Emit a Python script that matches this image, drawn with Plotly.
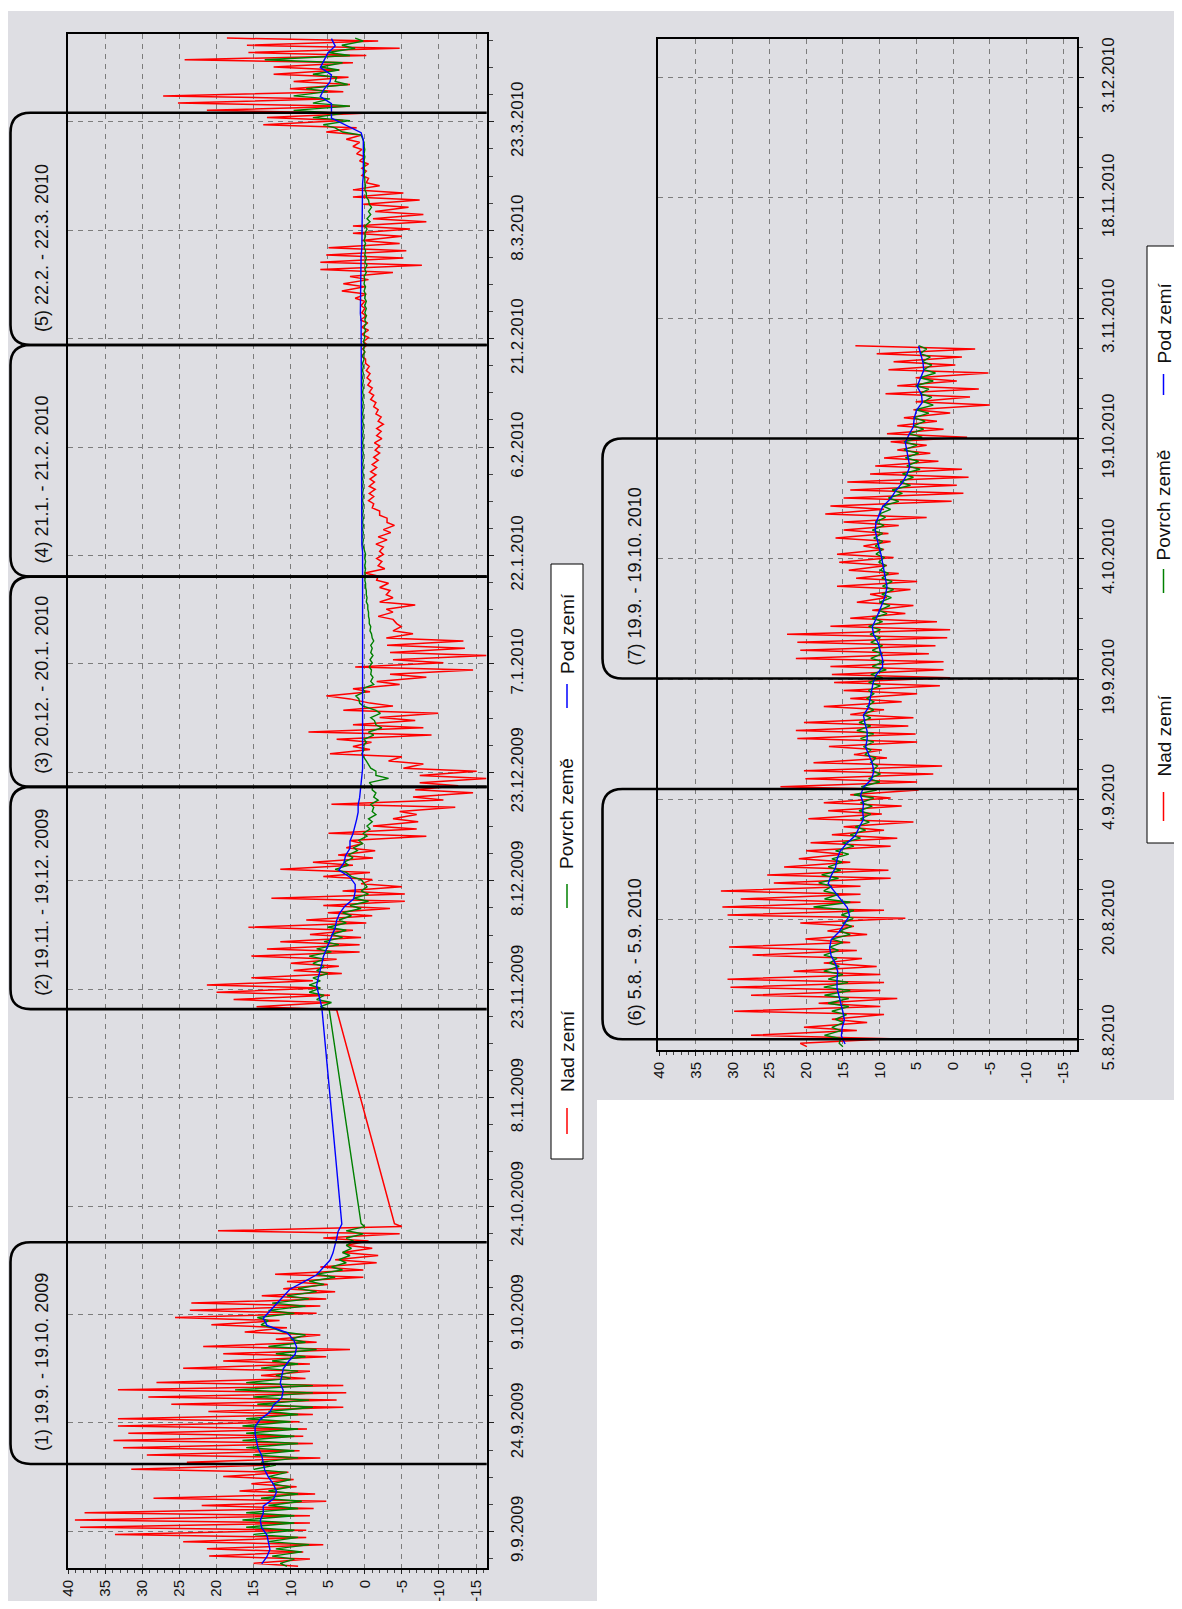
import plotly.graph_objects as go
from datetime import datetime, timedelta

# ---------------------------------------------------------------- data
SERIES_NAMES = ["Nad zemí", "Povrch země", "Pod zemí"]
SERIES_COLORS = ["#ff0000", "#008000", "#0000ff"]

# left chart, part 1 : one row per day, first day 4.9.2009
SEG1_START = "2009-09-04"
red1_max = [15.0, 21.0, 21.3, 24.5, 33.7, 38.4, 39.1, 37.8, 22.0, 28.5,
            16.9, 15.3, 19.1, 31.5, 24.0, 29.4, 32.6, 33.9, 31.9, 33.3,
            33.3, 21.1, 26.1, 29.2, 33.3, 28.1, 14.0, 24.5, 19.1, 19.1,
            21.8, 12.0, 16.2, 20.7, 25.6, 23.6, 23.4, 13.9, 11.0, 10.5,
            12.1, 6.0, 4.0, 3.0, 2.5, 5.6, 19.8, -4.0]
red1_min = [9.0, 7.4, 8.3, 5.6, 7.9, 7.9, 7.4, 7.4, 6.9, 5.2,
            6.7, 9.2, 9.6, 10.3, 12.8, 6.0, 8.8, 7.0, 8.3, 7.8,
            8.8, 7.0, 2.9, 3.8, 2.5, 2.9, 8.0, 7.4, 7.4, 5.2,
            2.0, 6.5, 6.0, 10.5, 11.5, 6.5, 6.0, 5.2, 4.0, 5.0,
            0.2, 0.2, -1.6, -1.8, -1.0, -0.5, -4.7, -5.0]
green1_max = [11.4, 12.5, 12.0, 13.0, 15.0, 16.0, 16.5, 16.0, 13.0, 14.0,
              13.0, 12.5, 13.0, 15.0, 14.0, 15.0, 16.0, 16.5, 16.0, 16.5,
              16.0, 13.0, 14.5, 15.0, 17.5, 16.0, 12.0, 14.0, 12.5, 12.0,
              13.0, 10.0, 11.0, 14.0, 14.5, 13.0, 12.5, 10.5, 9.0, 7.5,
              6.5, 4.5, 3.5, 3.0, 2.5, 2.5, 2.5, 0.5]
green1_min = [10.5, 9.5, 8.5, 7.5, 9.0, 9.5, 9.5, 9.5, 9.0, 8.5,
              9.0, 10.0, 10.0, 10.5, 12.0, 9.0, 9.5, 9.0, 9.5, 9.0,
              10.0, 9.0, 7.0, 7.5, 7.0, 7.0, 10.0, 9.0, 9.0, 8.0,
              6.5, 8.0, 8.0, 12.5, 13.0, 9.5, 8.0, 7.5, 6.5, 5.5,
              4.0, 3.0, 2.5, 2.0, 1.8, 1.5, 0.2, 0.0]
blue1 = [13.9, 13.2, 12.8, 13.0, 13.2, 13.9, 14.1, 13.7, 13.7, 12.3,
         11.9, 12.3, 13.0, 13.5, 13.7, 13.9, 14.4, 14.6, 14.8, 14.8,
         14.1, 12.8, 12.3, 11.2, 11.0, 11.4, 11.2, 11.0, 10.3, 9.4,
         9.2, 9.6, 10.5, 13.2, 13.7, 12.8, 11.9, 11.0, 10.1, 8.3,
         6.5, 5.6, 4.7, 4.3, 4.0, 3.8, 3.6, 3.1]

# left chart, part 2 : first day 20.11.2009
SEG2_START = "2009-11-20"
red2_max = [14.6, 17.7, 20.0, 21.3, 15.3, 9.6, 10.0, 15.3, 13.2, 11.4,
            7.4, 15.7, 7.9, 5.0, 5.6, 12.6, 3.0, 0.5, 5.6, 11.4,
            7.0, 3.6, 2.5, 2.0, 4.9, -1.1, -3.8, -4.7, 4.5, -6.5,
            -6.8, -7.4, -7.4, -5.2, -3.2, 4.7, 1.6, 3.8, 7.6, 1.6,
            -2.0, 2.9, -0.7, 5.2, 1.6, -1.6, -3.4, 1.3, -3.8, -3.4,
            -3.0, -2.9, -3.8, -4.3, -1.8, -2.9, -2.0, -2.9, -2.0, -1.6,
            0.0, -1.8, -1.6, -2.0, -1.5, -1.8, -2.5, -3.0, -2.0, -1.0,
            -0.5, -0.6, -0.6, -0.7, -0.8, -1.0, -1.2, -1.4, -1.3, -1.6,
            -1.6, -1.8, -1.5, -1.2, -0.8, -0.6, -0.4, -0.3, -0.2, -0.1,
            0.4, 0.3, 0.2, 0.4, 0.4, 0.6, 0.4, 0.5, 1.3, 3.1,
            2.9, 2.0, 6.0, 6.0, 5.2, 4.9, 0.4, 1.6, 1.6, -1.1,
            -1.4, 0.2, 1.6, 1.6, -0.2, 0.4, 0.4, 0.7, 1.1, 1.6,
            2.5, 5.2, 13.7, 13.2, 21.3, 25.2, 27.2, 10.1, 9.6, 12.3,
            12.3, 24.3, 15.7, 15.9, 18.6]
red2_min = [3.8, 4.7, 4.7, 6.0, 7.0, 3.1, 3.5, 3.8, 0.7, 0.7,
            0.5, 1.6, -0.2, -1.0, -3.4, -5.4, -5.4, -5.0, -1.0, -0.7,
            1.6, -1.1, -1.4, 0.3, -8.3, -7.0, -7.2, -7.0, -12.2, -10.6,
            -14.6, -12.6, -16.4, -15.1, -7.9, -5.0, -0.7, -0.9, -9.0, -7.9,
            -6.8, -9.9, -3.8, 2.0, -0.7, -4.7, -8.3, -14.6, -10.6, -16.4,
            -13.5, -13.3, -6.5, -4.9, -3.8, -3.8, -6.8, -3.8, -3.4, -3.2,
            -1.8, -2.7, -2.3, -2.5, -2.5, -3.0, -3.5, -4.0, -3.0, -2.0,
            -1.2, -1.2, -1.4, -1.3, -1.5, -1.6, -1.8, -2.0, -2.0, -2.3,
            -2.2, -2.5, -2.2, -1.8, -1.5, -1.2, -1.0, -0.8, -0.7, -0.6,
            -0.1, 0.0, -0.3, -0.5, -0.5, -0.4, -0.2, 0.0, 0.0, -0.2,
            0.0, -0.5, -3.8, -7.7, -5.2, -5.6, -4.7, -5.0, -6.1, -8.3,
            -7.9, -5.9, -7.4, -5.2, -2.0, -0.5, -0.2, -0.5, 0.0, 0.4,
            0.7, 0.4, 1.1, 2.9, 0.2, 2.0, 5.2, 2.9, 2.0, 2.2,
            3.4, 1.6, -0.2, -4.7, -1.8]
green2_max = [6.0, 6.5, 7.5, 7.5, 7.0, 6.5, 7.0, 7.5, 6.5, 5.5,
              4.5, 5.0, 3.5, 3.0, 2.0, 1.5, 0.5, 0.0, 1.8, 4.0,
              2.8, 2.2, 1.5, 0.8, 0.2, -0.3, -0.5, -1.0, -0.8, -1.2,
              -1.0, -0.6, -1.5, -0.8, -0.2, 0.4, 0.3, 0.1, -0.5, -1.5,
              -0.8, -1.5, 0.7, 1.2, 0.3, -0.8, -0.8, -0.6, -0.7, -0.8,
              -0.8, -1.0, -0.7, -0.6, -0.5, -0.4, -0.2, -0.2, -0.1, 0.0,
              0.0, 0.0, 0.0, 0.0, 0.3, 0.3, 0.3, 0.3, 0.3, 0.3,
              0.3, 0.3, 0.3, 0.3, 0.3, 0.3, 0.3, 0.3, 0.3, 0.3,
              0.3, 0.3, 0.3, 0.3, 0.3, 0.3, 0.3, 0.3, 0.3, 0.3,
              0.3, 0.2, 0.2, 0.1, 0.1, 0.0, 0.0, 0.0, 0.0, 0.1,
              0.1, 0.1, 0.0, 0.0, 0.0, 0.1, 0.1, 0.0, 0.0, -0.3,
              -0.5, -0.6, -0.2, 0.0, 0.0, 0.1, 0.1, 0.1, 0.1, 0.1,
              0.3, 3.0, 5.6, 7.0, 9.6, 7.0, 9.6, 7.9, 4.0, 7.0,
              6.0, 13.5, 5.0, 3.1, 1.3]
green2_min = [4.8, 4.5, 5.5, 6.0, 6.0, 5.0, 5.5, 5.5, 4.5, 3.5,
              3.0, 2.5, 2.5, 1.8, 0.5, -0.5, -0.5, -0.3, 0.5, 2.5,
              2.2, 1.6, 1.0, 0.3, -0.3, -0.7, -1.0, -1.5, -1.2, -1.8,
              -1.5, -1.0, -3.2, -1.5, -0.5, 0.2, 0.1, -0.2, -1.2, -2.3,
              -1.3, -2.1, 0.2, 0.8, 0.0, -1.2, -1.1, -0.9, -1.0, -1.1,
              -1.0, -1.2, -0.9, -0.8, -0.6, -0.5, -0.4, -0.3, -0.2, -0.1,
              -0.1, -0.1, -0.1, -0.1, 0.2, 0.2, 0.2, 0.2, 0.2, 0.2,
              0.2, 0.2, 0.2, 0.2, 0.2, 0.2, 0.2, 0.2, 0.2, 0.2,
              0.2, 0.2, 0.2, 0.2, 0.2, 0.2, 0.2, 0.2, 0.2, 0.2,
              0.1, 0.0, 0.0, 0.0, -0.1, -0.2, -0.2, -0.2, -0.2, -0.1,
              -0.1, 0.0, -0.2, -0.3, -0.2, -0.1, -0.1, -0.1, -0.3, -0.7,
              -0.8, -0.9, -0.5, -0.2, -0.1, 0.0, 0.0, 0.0, 0.0, 0.0,
              0.1, 0.5, 4.0, 2.0, 2.9, 2.0, 4.7, 5.0, 2.3, 3.8,
              3.5, 3.0, 2.0, 1.3, 0.2]
blue2 = [5.8, 6.0, 6.3, 6.5, 6.3, 6.0, 5.8, 5.6, 5.2, 4.7,
         4.4, 4.0, 3.8, 3.4, 2.7, 1.5, 1.3, 1.3, 2.0, 3.5,
         2.8, 2.6, 2.0, 2.0, 1.6, 1.3, 1.1, 0.9, 0.9, 0.7,
         0.6, 0.5, 0.3, 0.3, 0.3, 0.3, 0.3, 0.3, 0.3, 0.3,
         0.3, 0.3, 0.2, 0.2, 0.2, 0.2, 0.2, 0.2, 0.3, 0.3,
         0.3, 0.3, 0.3, 0.3, 0.3, 0.3, 0.3, 0.3, 0.3, 0.3,
         0.3, 0.3, 0.3, 0.3, 0.4, 0.4, 0.4, 0.4, 0.4, 0.4,
         0.4, 0.4, 0.4, 0.4, 0.4, 0.4, 0.4, 0.4, 0.4, 0.4,
         0.4, 0.4, 0.4, 0.4, 0.4, 0.4, 0.4, 0.4, 0.4, 0.4,
         0.5, 0.5, 0.5, 0.5, 0.5, 0.5, 0.6, 0.6, 0.6, 0.6,
         0.6, 0.6, 0.5, 0.5, 0.5, 0.4, 0.4, 0.4, 0.4, 0.3,
         0.3, 0.3, 0.3, 0.3, 0.3, 0.2, 0.2, 0.2, 0.2, 0.2,
         0.2, 0.5, 2.5, 4.5, 4.5, 4.5, 6.0, 5.5, 4.7, 4.5,
         6.0, 5.5, 5.0, 4.0, 4.5]

# right chart : first day 4.8.2010
SEG3_START = "2010-08-04"
red3_max = [20.8, 27.5, 20.3, 16.5, 29.8, 18.3, 27.5, 30.3, 30.7, 21.7,
            17.6, 27.3, 30.5, 20.1, 17.1, 20.8, 30.7, 31.4, 28.9, 31.6,
            24.4, 25.3, 23.0, 21.0, 20.0, 19.4, 16.5, 14.9, 19.7, 17.0,
            17.6, 14.0, 23.5, 20.1, 20.3, 19.0, 13.5, 16.9, 21.2, 21.4,
            20.3, 14.0, 17.6, 14.0, 14.9, 16.2, 16.5, 16.7, 21.4, 20.8,
            21.2, 22.6, 16.7, 14.0, 11.0, 13.1, 11.3, 15.8, 13.2, 14.2,
            15.5, 15.8, 12.2, 16.0, 14.9, 14.9, 17.4, 16.7, 14.9, 14.0,
            14.4, 11.3, 10.6, 9.4, 7.6, 8.5, 9.0, 7.6, 6.7, 5.4,
            5.1, 9.2, 7.6, 5.1, 8.8, 8.1, 10.4, 13.3]
red3_min = [19.9, 8.5, 13.1, 11.7, 9.4, 9.9, 7.6, 9.9, 9.4, 9.9,
            10.4, 12.4, 13.1, 14.0, 11.7, 13.5, 6.5, 9.4, 12.6, 12.6,
            12.6, 8.5, 8.8, 14.0, 15.0, 8.5, 7.6, 9.4, 5.4, 9.7,
            7.0, 8.5, 4.7, 4.9, 2.7, 1.5, 9.0, 9.7, 4.9, 5.1,
            6.1, 5.4, 9.4, 7.0, 4.9, 1.8, 0.4, 1.3, 1.3, 3.3,
            2.4, 0.8, 0.4, 2.2, 6.5, 5.4, 9.0, 5.8, 4.9, 7.4,
            9.0, 8.1, 9.4, 8.5, 8.8, 7.4, 3.6, 9.4, 0.2, -1.4,
            -0.5, -2.1, -1.2, 2.0, 3.1, 3.6, -1.9, 1.3, 2.2, 0.4,
            -5.0, -2.3, -3.5, -0.5, -4.8, -0.3, -1.2, -3.0]
green3_max = [15.5, 17.5, 16.5, 16.0, 16.5, 17.0, 17.5, 17.6, 17.0, 17.6,
              16.8, 17.6, 16.8, 16.5, 15.5, 15.0, 15.2, 19.0, 17.5, 17.6,
              18.3, 17.9, 17.0, 16.5, 16.0, 15.0, 14.0, 13.3, 12.6, 12.8,
              12.6, 13.5, 12.5, 11.5, 11.0, 11.2, 12.0, 12.2, 12.6, 13.1,
              12.8, 12.2, 11.7, 11.7, 11.5, 11.5, 11.2, 11.0, 11.2, 11.0,
              11.2, 11.3, 11.5, 11.0, 10.1, 10.0, 9.7, 9.6, 9.7, 9.9,
              10.1, 10.5, 10.6, 10.8, 11.0, 10.6, 10.1, 9.6, 8.8, 8.3,
              7.2, 6.9, 6.3, 6.5, 6.7, 6.7, 6.0, 5.4, 5.4, 5.1,
              4.0, 4.5, 5.1, 4.5, 4.0, 4.2, 4.5, 4.7]
green3_min = [15.0, 15.3, 15.3, 14.9, 14.5, 14.2, 14.2, 14.0, 14.3, 15.0,
              15.5, 15.8, 15.6, 15.0, 14.0, 13.8, 13.6, 13.5, 14.0, 15.6,
              16.5, 15.6, 15.3, 15.1, 14.2, 13.5, 12.6, 11.9, 11.4, 11.2,
              11.0, 10.8, 10.4, 10.0, 9.9, 10.3, 10.5, 11.2, 10.8, 10.8,
              11.2, 11.2, 10.8, 10.8, 10.8, 9.9, 9.6, 9.1, 9.4, 9.6,
              9.6, 9.9, 9.9, 9.6, 9.0, 8.6, 8.4, 8.1, 8.3, 8.8,
              9.2, 9.4, 9.6, 9.6, 9.6, 9.4, 9.2, 8.5, 7.4, 6.9,
              5.8, 5.4, 4.5, 4.7, 4.7, 4.9, 4.2, 4.0, 3.8, 3.3,
              2.7, 2.9, 3.3, 2.7, 2.4, 2.9, 3.1, 3.6]
blue3 = [14.7, 15.2, 15.1, 14.8, 15.0, 15.3, 15.6, 15.8, 15.8, 15.7,
         16.0, 16.6, 16.8, 16.6, 15.5, 14.8, 14.1, 14.4, 15.3, 16.2,
         17.0, 16.6, 16.0, 15.8, 15.4, 14.5, 13.3, 12.8, 12.2, 12.3,
         12.2, 12.6, 12.2, 11.1, 10.8, 11.0, 11.5, 11.9, 11.7, 11.7,
         12.0, 12.2, 11.5, 11.3, 11.1, 10.9, 10.5, 9.6, 9.6, 9.9,
         10.2, 10.8, 11.0, 10.5, 10.0, 9.6, 9.2, 9.0, 9.2, 9.4,
         9.5, 9.8, 10.1, 10.3, 10.6, 10.5, 10.1, 9.6, 8.5, 7.8,
         6.9, 6.3, 5.9, 6.1, 6.3, 6.5, 6.0, 5.4, 5.3, 5.0,
         4.2, 4.3, 4.9, 4.4, 4.0, 4.1, 4.4, 4.7]

TEMP_TICKS = [40, 35, 30, 25, 20, 15, 10, 5, 0, -5, -10, -15]
TEMP_TICK_TEXT = ["40", "35", "30", "25", "20", "15", "10", "5", "0", "-5", "-10", "-15"]

LEFT_TICK_DATES = ["2009-09-09", "2009-09-24", "2009-10-09", "2009-10-24", "2009-11-08",
                   "2009-11-23", "2009-12-08", "2009-12-23", "2010-01-07", "2010-01-22",
                   "2010-02-06", "2010-02-21", "2010-03-08", "2010-03-23"]
LEFT_TICK_TEXT = ["9.9.2009", "24.9.2009", "9.10.2009", "24.10.2009", "8.11.2009",
                  "23.11.2009", "8.12.2009", "23.12.2009", "7.1.2010", "22.1.2010",
                  "6.2.2010", "21.2.2010", "8.3.2010", "23.3.2010"]
RIGHT_TICK_DATES = ["2010-08-05", "2010-08-20", "2010-09-04", "2010-09-19", "2010-10-04",
                    "2010-10-19", "2010-11-03", "2010-11-18", "2010-12-03"]
RIGHT_TICK_TEXT = ["5.8.2010", "20.8.2010", "4.9.2010", "19.9.2010", "4.10.2010",
                   "19.10.2010", "3.11.2010", "18.11.2010", "3.12.2010"]

PERIODS_LEFT = [("(1) 19.9. - 19.10. 2009", "2009-09-18 08:00", "2009-10-19 00:00"),
                ("(2) 19.11. - 19.12. 2009", "2009-11-20 06:00", "2009-12-21 00:00"),
                ("(3) 20.12. - 20.1. 2010", "2009-12-21 00:00", "2010-01-19 02:00"),
                ("(4) 21.1. - 21.2. 2010", "2010-01-19 02:00", "2010-02-20 03:00"),
                ("(5) 22.2. - 22.3. 2010", "2010-02-20 03:00", "2010-03-24 06:00")]
PERIODS_RIGHT = [("(6) 5.8. - 5.9. 2010", "2010-08-05 02:00", "2010-09-05 07:00"),
                 ("(7) 19.9. - 19.10. 2010", "2010-09-19 02:00", "2010-10-19 00:00")]

# ---------------------------------------------------------------- layout constants
W, H = 1166, 1593            # page body has an 8px margin
BG = "#dedee3"
GRID = "#7c7c7c"
FONT = "Liberation Sans, Arial, sans-serif"

LEFT_XDOM = [59.5 / W, 478.7 / W]
LEFT_YDOM = [1 - 1560 / H, 1 - 26 / H]
RIGHT_XDOM = [650.3 / W, 1069.3 / W]
RIGHT_YDOM = [1 - 1042 / H, 1 - 31.3 / H]
LEFT_TRANGE = [40.1, -16.44]
RIGHT_TRANGE = [40.12, -16.9]
LEFT_DRANGE = ["2009-09-03 22:30", "2010-04-04 03:30"]
RIGHT_DRANGE = ["2010-08-03 18:00", "2010-12-07 18:45"]


def pairs(start, mins, maxs):
    t0 = datetime.fromisoformat(start)
    ts, vs = [], []
    for i, (lo, hi) in enumerate(zip(mins, maxs)):
        d = t0 + timedelta(days=i)
        ts += [d + timedelta(hours=4), d + timedelta(hours=14)]
        vs += [lo, hi]
    return ts, vs


def singles(start, vals):
    t0 = datetime.fromisoformat(start)
    return [t0 + timedelta(days=i, hours=12) for i in range(len(vals))], list(vals)


fig = go.Figure()
WIDTHS = [1.5, 1.4, 1.4]

# left chart
rt1, rv1 = pairs(SEG1_START, red1_min, red1_max)
rt2, rv2 = pairs(SEG2_START, red2_min, red2_max)
gt1, gv1 = pairs(SEG1_START, green1_min, green1_max)
gt2, gv2 = pairs(SEG2_START, green2_min, green2_max)
bt1, bv1 = singles(SEG1_START, blue1)
bt2, bv2 = singles(SEG2_START, blue2)
left_series = [(rt1 + rt2, rv1 + rv2), (gt1 + gt2, gv1 + gv2), (bt1 + bt2, bv1 + bv2)]
for (ts, vs), name, col, w in zip(left_series, SERIES_NAMES, SERIES_COLORS, WIDTHS):
    fig.add_trace(go.Scatter(x=vs, y=ts, mode="lines", name=name,
                             line=dict(color=col, width=w), xaxis="x", yaxis="y"))

# right chart
rt3, rv3 = pairs(SEG3_START, red3_min, red3_max)
gt3, gv3 = pairs(SEG3_START, green3_min, green3_max)
bt3, bv3 = singles(SEG3_START, blue3)
for (ts, vs), name, col, w in zip([(rt3, rv3), (gt3, gv3), (bt3, bv3)], SERIES_NAMES, SERIES_COLORS, WIDTHS):
    fig.add_trace(go.Scatter(x=vs, y=ts, mode="lines", name=name, showlegend=False,
                             line=dict(color=col, width=w), xaxis="x2", yaxis="y2"))

temp_axis = dict(tickmode="array", tickvals=TEMP_TICKS, ticktext=TEMP_TICK_TEXT, tickangle=-90,
                 ticks="outside", ticklen=4, tickcolor="#222", automargin=False,
                 minor=dict(dtick=1, tick0=0, ticks="outside", ticklen=3, tickcolor="#444", showgrid=False),
                 showgrid=True, gridcolor=GRID, griddash="5px,5px", gridwidth=1,
                 showline=True, linecolor="black", linewidth=2, mirror=True, zeroline=False,
                 tickfont=dict(size=15, color="#111", family=FONT), ticklabelstandoff=0)
date_axis = dict(type="date", side="right", tickmode="array", tickangle=-90,
                 ticks="outside", ticklen=5, tickcolor="#222", automargin=False,
                 showgrid=True, gridcolor=GRID, griddash="5px,5px", gridwidth=1,
                 showline=True, linecolor="black", linewidth=2, mirror=True, zeroline=False,
                 tickfont=dict(size=17, color="#111", family=FONT), ticklabelstandoff=9)

fig.update_layout(
    width=W, height=H, margin=dict(l=0, r=0, t=0, b=0, autoexpand=False),
    paper_bgcolor=BG, plot_bgcolor=BG, showlegend=False,
    font=dict(family=FONT, color="#111"),
    xaxis=dict(temp_axis, domain=LEFT_XDOM, range=LEFT_TRANGE, anchor="y"),
    yaxis=dict(date_axis, domain=LEFT_YDOM, range=LEFT_DRANGE, anchor="x",
               tickvals=LEFT_TICK_DATES, ticktext=LEFT_TICK_TEXT,
               minor=dict(tick0="2009-09-09", dtick=324000000, ticks="outside", ticklen=4,
                          tickcolor="#444", showgrid=False)),
    xaxis2=dict(temp_axis, domain=RIGHT_XDOM, range=RIGHT_TRANGE, anchor="y2"),
    yaxis2=dict(date_axis, domain=RIGHT_YDOM, range=RIGHT_DRANGE, anchor="x2",
                tickvals=RIGHT_TICK_DATES, ticktext=RIGHT_TICK_TEXT,
                minor=dict(tick0="2010-08-05", dtick=324000000, ticks="outside", ticklen=4,
                           tickcolor="#444", showgrid=False)),
)


def px(fx):
    return fx / W


def py(fy):
    return 1 - fy / H


def date_paper(tstr, drange, ydom):
    t = datetime.fromisoformat(tstr)
    r0 = datetime.fromisoformat(drange[0])
    r1 = datetime.fromisoformat(drange[1])
    return ydom[0] + (t - r0) / (r1 - r0) * (ydom[1] - ydom[0])


shapes = []
annotations = []
# white surroundings of the two grey panels
shapes.append(dict(type="rect", xref="paper", yref="paper", x0=0, x1=1, y0=py(3), y1=1,
                   fillcolor="white", line=dict(width=0), layer="below"))
shapes.append(dict(type="rect", xref="paper", yref="paper", x0=px(589), x1=1, y0=0, y1=py(1092),
                   fillcolor="white", line=dict(width=0), layer="below"))

# period frames
R = 20


def period_frames(periods, xl_px, xr_px, drange, ydom, label_x):
    rx, ry = R / W, R / H
    xl, xr = px(xl_px), px(xr_px)
    for label, t0, t1 in periods:
        yb = date_paper(t0, drange, ydom)
        yt = date_paper(t1, drange, ydom)
        path = (f"M {xr},{yb} L {xl + rx},{yb} Q {xl},{yb} {xl},{yb + ry} "
                f"L {xl},{yt - ry} Q {xl},{yt} {xl + rx},{yt} L {xr},{yt}")
        shapes.append(dict(type="path", xref="paper", yref="paper", path=path,
                           line=dict(color="black", width=2.6)))
        annotations.append(dict(text=label, xref="paper", yref="paper", x=px(label_x),
                                y=yb + 11 / H, xanchor="center", yanchor="bottom",
                                textangle=-90, showarrow=False,
                                font=dict(size=18, family=FONT, color="#111")))


period_frames(PERIODS_LEFT, 2.5, 478.7, LEFT_DRANGE, LEFT_YDOM, 34)
period_frames(PERIODS_RIGHT, 594.5, 1069.3, RIGHT_DRANGE, RIGHT_YDOM, 627)


# legends (drawn rotated like the rest of the chart)
def legend(box, items):
    x0, x1, y0, y1 = box
    shapes.append(dict(type="rect", xref="paper", yref="paper", x0=px(x0), x1=px(x1),
                       y0=py(y1), y1=py(y0), fillcolor="white", line=dict(color="black", width=1)))
    xc = (x0 + x1) / 2
    for (la, lb, tc), name, col in zip(items, SERIES_NAMES, SERIES_COLORS):
        shapes.append(dict(type="line", xref="paper", yref="paper", x0=px(xc), x1=px(xc),
                           y0=py(la), y1=py(lb), line=dict(color=col, width=1.5)))
        annotations.append(dict(text=name, xref="paper", yref="paper", x=px(xc), y=py(tc),
                                xanchor="center", yanchor="middle", textangle=-90,
                                showarrow=False, font=dict(size=19, family=FONT, color="#111")))


legend((543, 575, 556, 1151), [(1100, 1126, 1043), (876, 900, 806), (676, 700, 626)])
legend((1139, 1172, 238, 835), [(784, 813, 728), (561, 585, 497), (366, 387, 315)])

fig.update_layout(shapes=shapes, annotations=annotations)

fig.write_html("out.html")
